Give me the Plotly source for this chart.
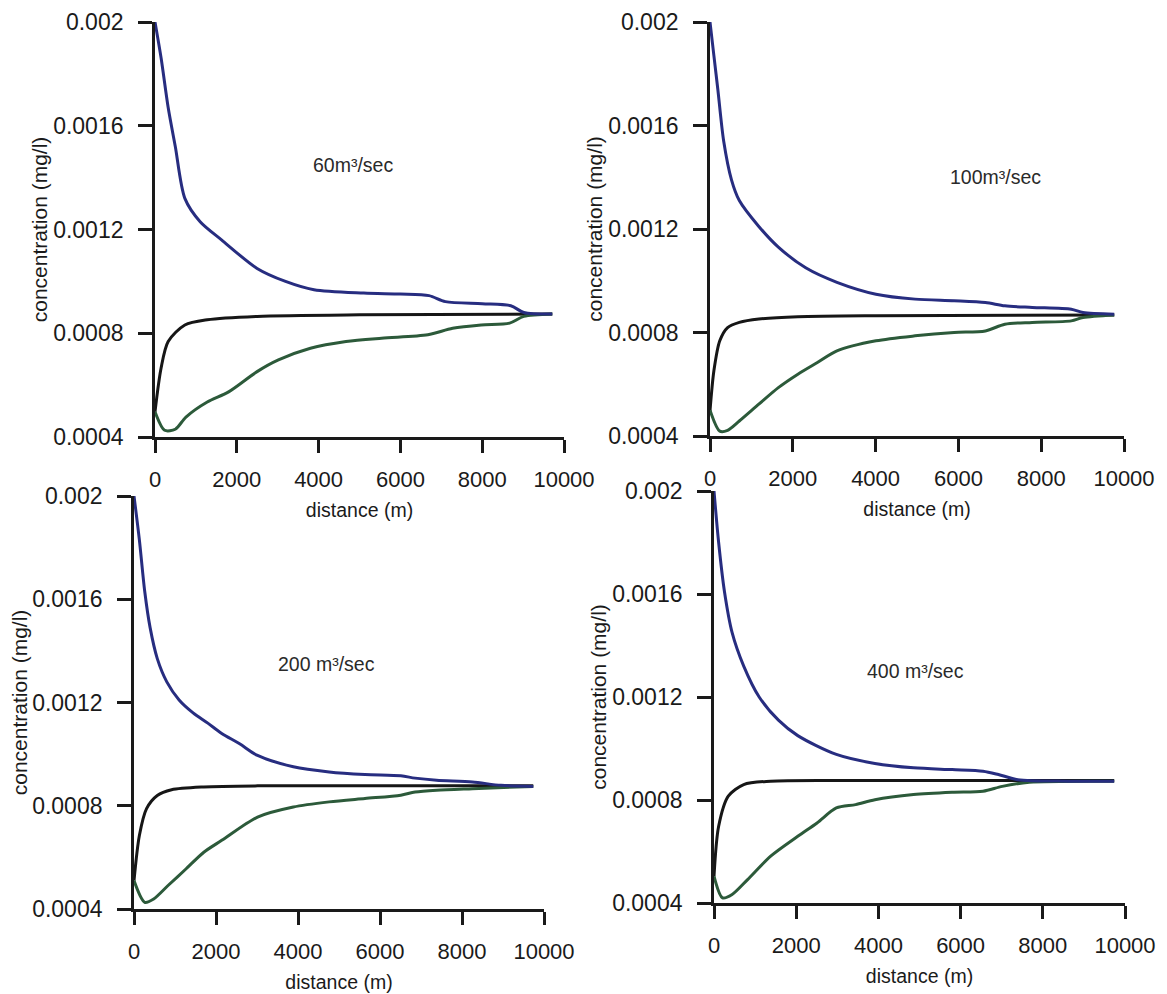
import plotly.graph_objects as go

W, H = 1167, 994

# ---------------- data ----------------
panel_labels = ["60m³/sec", "100m³/sec", "200 m³/sec", "400 m³/sec"]
x_ticks = [0, 2000, 4000, 6000, 8000, 10000]
x_tick_text = ["0", "2000", "4000", "6000", "8000", "10000"]
y_ticks = [0.0004, 0.0008, 0.0012, 0.0016, 0.002]
y_tick_text = ["0.0004", "0.0008", "0.0012", "0.0016", "0.002"]

# panel 1 : 60 m3/sec
p1_blue_x = [0, 150, 322, 496, 730, 1104, 1626, 2496, 3191, 3887, 5104, 6000, 6700, 7100, 8000, 8700, 9017, 9713]
p1_blue_y = [0.00200, 0.00186, 0.00167, 0.00152, 0.00132, 0.00123, 0.00116, 0.00105, 0.00100, 0.000968, 0.000955, 0.000951, 0.000945, 0.000922, 0.000914, 0.000906, 0.000880, 0.000874]
p1_black_x = [0, 148, 322, 730, 1278, 2496, 5000, 9713]
p1_black_y = [0.000497, 0.000665, 0.000768, 0.000832, 0.000852, 0.000865, 0.000871, 0.000874]
p1_green_x = [0, 235, 496, 757, 1278, 1800, 2496, 3017, 3800, 4670, 5539, 6670, 7278, 7974, 8670, 9017, 9713]
p1_green_y = [0.000497, 0.000426, 0.000430, 0.000477, 0.000535, 0.000574, 0.000652, 0.000697, 0.000742, 0.000768, 0.000781, 0.000794, 0.000819, 0.000832, 0.000839, 0.000865, 0.000874]

# panel 2 : 100 m3/sec
p2_blue_x = [0, 94, 189, 330, 519, 708, 1179, 1651, 2311, 3066, 4009, 4953, 5896, 6651, 7123, 7783, 8726, 9009, 9764]
p2_blue_y = [0.00200, 0.00187, 0.00174, 0.00154, 0.00139, 0.00131, 0.00121, 0.00113, 0.00105, 0.000994, 0.000948, 0.000929, 0.000923, 0.000916, 0.000903, 0.000897, 0.000890, 0.000877, 0.000871]
p2_black_x = [0, 94, 236, 425, 708, 1179, 2123, 4009, 9764]
p2_black_y = [0.000497, 0.000652, 0.000768, 0.000819, 0.000839, 0.000852, 0.000861, 0.000865, 0.000868]
p2_green_x = [0, 236, 425, 708, 1179, 1651, 2123, 2594, 3066, 4009, 4953, 5896, 6651, 7123, 7783, 8726, 9009, 9764]
p2_green_y = [0.000500, 0.000419, 0.000422, 0.000458, 0.000523, 0.000587, 0.000639, 0.000684, 0.000729, 0.000768, 0.000787, 0.000800, 0.000806, 0.000832, 0.000839, 0.000845, 0.000858, 0.000868]

# panel 3 : 200 m3/sec
p3_blue_x = [0, 131, 262, 393, 568, 800, 1100, 1441, 1800, 2140, 2576, 3013, 3886, 4760, 5633, 6507, 6856, 7380, 8253, 8952, 9738]
p3_blue_y = [0.00200, 0.00183, 0.00163, 0.00149, 0.00137, 0.00128, 0.00121, 0.00116, 0.00112, 0.00108, 0.00104, 0.000995, 0.000951, 0.000931, 0.000921, 0.000916, 0.000907, 0.000899, 0.000892, 0.000879, 0.000875]
p3_black_x = [0, 131, 306, 568, 917, 1703, 3013, 9738]
p3_black_y = [0.000510, 0.000685, 0.000789, 0.000840, 0.000862, 0.000873, 0.000877, 0.000877]
p3_green_x = [0, 262, 480, 830, 1266, 1703, 2140, 3013, 3886, 4760, 5633, 6507, 6856, 7380, 8253, 9738]
p3_green_y = [0.000510, 0.000426, 0.000439, 0.000491, 0.000555, 0.000620, 0.000666, 0.000756, 0.000795, 0.000815, 0.000828, 0.000841, 0.000853, 0.000860, 0.000866, 0.000875]

# panel 4 : 400 m3/sec
p4_blue_x = [0, 113, 254, 441, 723, 1099, 1568, 2038, 2977, 3915, 4854, 5793, 6545, 6920, 7390, 8610, 9737]
p4_blue_y = [0.00200, 0.00180, 0.00161, 0.00145, 0.00132, 0.00120, 0.00111, 0.00105, 0.000977, 0.000942, 0.000925, 0.000918, 0.000912, 0.000899, 0.000879, 0.000873, 0.000873]
p4_black_x = [0, 113, 347, 723, 1380, 3000, 9737]
p4_black_y = [0.000504, 0.000698, 0.000815, 0.000860, 0.000873, 0.000876, 0.000876]
p4_green_x = [0, 207, 441, 817, 1380, 2038, 2507, 2977, 3446, 3915, 4854, 5793, 6545, 7014, 7671, 9737]
p4_green_y = [0.000504, 0.000420, 0.000433, 0.000491, 0.000582, 0.000659, 0.000711, 0.000769, 0.000782, 0.000801, 0.000821, 0.000830, 0.000834, 0.000853, 0.000869, 0.000873]

# annotation positions (data units) for the flow labels
label_x = [4850, 6900, 4700, 4900]
label_y = [0.00145, 0.00140, 0.00135, 0.00130]

# ---------------- layout geometry (pixels) ----------------
# (x at 0, x at 10000, y at 0.002, y at 0.0004)
boxes = [
    (147, 556, 14, 429),
    (702, 1116, 14, 428),
    (126, 536, 488, 901),
    (706, 1117, 483, 895),
]

BLUE = "#272d80"
BLACK = "#161616"
GREEN = "#2c5a3a"
FONT = "Liberation Sans, Arial, sans-serif"

panels = [
    (p1_blue_x, p1_blue_y, p1_black_x, p1_black_y, p1_green_x, p1_green_y),
    (p2_blue_x, p2_blue_y, p2_black_x, p2_black_y, p2_green_x, p2_green_y),
    (p3_blue_x, p3_blue_y, p3_black_x, p3_black_y, p3_green_x, p3_green_y),
    (p4_blue_x, p4_blue_y, p4_black_x, p4_black_y, p4_green_x, p4_green_y),
]

fig = go.Figure()
layout = dict(
    width=W, height=H, autosize=False,
    margin=dict(l=0, r=0, t=0, b=0),
    paper_bgcolor="white", plot_bgcolor="white",
    showlegend=False,
    font=dict(family=FONT, color="#1a1a1a"),
)
annotations = []

for i, (bx, by, kx, ky, gx, gy) in enumerate(panels):
    n = "" if i == 0 else str(i + 1)
    xa, ya = "x" + n, "y" + n
    for xs, ys, col in ((kx, ky, BLACK), (gx, gy, GREEN), (bx, by, BLUE)):
        fig.add_trace(go.Scatter(x=xs, y=ys, mode="lines", xaxis=xa, yaxis=ya,
                                 line=dict(color=col, width=3, shape="spline", smoothing=0.8),
                                 hoverinfo="skip"))
    x0, x1, yt, yb = boxes[i]
    layout["xaxis" + n] = dict(
        domain=[x0 / W, x1 / W], anchor=ya, range=[0, 10000],
        tickvals=x_ticks, ticktext=x_tick_text,
        showgrid=False, zeroline=False, showline=True, linecolor="#1a1a1a", linewidth=2.8,
        ticks="outside", ticklen=13, tickwidth=2.8, tickcolor="#1a1a1a",
        tickfont=dict(size=22, family=FONT, color="#1a1a1a"), ticklabelstandoff=8,
        title=dict(text="distance (m)", font=dict(size=19.5, family=FONT, color="#1a1a1a"), standoff=13),
        automargin=False, fixedrange=True,
    )
    layout["yaxis" + n] = dict(
        domain=[1 - yb / H, 1 - yt / H], anchor=xa, range=[0.0004, 0.002],
        tickvals=y_ticks, ticktext=y_tick_text,
        showgrid=False, zeroline=False, showline=True, linecolor="#1a1a1a", linewidth=2.8,
        ticks="outside", ticklen=14, tickwidth=2.8, tickcolor="#1a1a1a",
        tickfont=dict(size=23, family=FONT, color="#1a1a1a"), ticklabelstandoff=10,
        title=dict(text="concentration (mg/l)", font=dict(size=21, family=FONT, color="#1a1a1a"), standoff=0),
        automargin=False, fixedrange=True,
    )
    annotations.append(dict(x=label_x[i], y=label_y[i], xref=xa, yref=ya,
                            text=panel_labels[i], showarrow=False,
                            font=dict(size=19.5, family=FONT, color="#2a2a2a")))

layout["annotations"] = annotations
fig.update_layout(**layout)
fig.write_html("out.html")
